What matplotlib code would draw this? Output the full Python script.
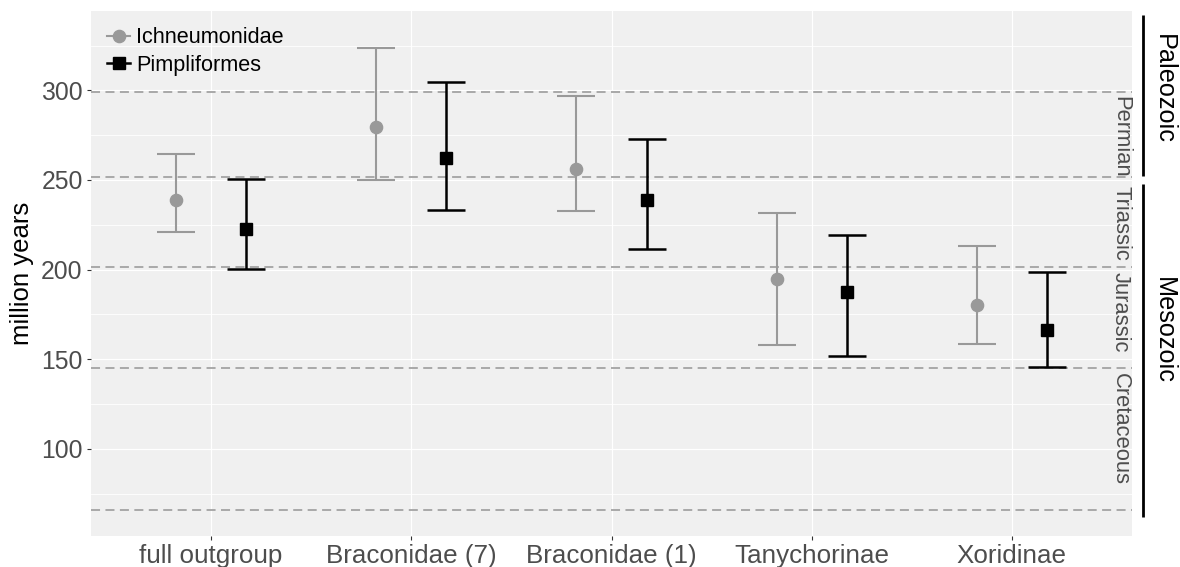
import matplotlib
matplotlib.use("Agg")
import matplotlib.pyplot as plt
import numpy as np
from matplotlib.lines import Line2D
from matplotlib.ticker import FixedLocator
from matplotlib.transforms import blended_transform_factory

plt.rcParams['font.family'] = ['Liberation Sans', 'DejaVu Sans']

# Divergence age estimates (million years) with 95% intervals
categories = ["full outgroup", "Braconidae (7)", "Braconidae (1)", "Tanychorinae", "Xoridinae"]
ich_mean = [238.6, 279.3, 256.3, 194.9, 180.0]
ich_low = [221.0, 250.0, 232.8, 158.1, 158.4]
ich_high = [264.7, 323.5, 296.6, 231.3, 213.2]
pim_mean = [222.9, 262.5, 239.0, 187.6, 166.5]
pim_low = [200.3, 233.3, 211.3, 151.5, 145.6]
pim_high = [250.5, 304.5, 273.0, 219.2, 198.8]

# Geological time scale
boundaries = [298.9, 251.9, 201.3, 145.0, 66.0]
periods = ["Permian", "Triassic", "Jurassic", "Cretaceous"]
period_label_y = [274, 226, 176, 111]
eras = ["Paleozoic", "Mesozoic"]
era_top = [342.0, 248.0]
era_bottom = [252.4, 62.0]
era_label_y = [301, 166]

GREY = "#999999"
PANEL = "#F0F0F0"
TEXT = "#4D4D4D"

fig = plt.figure(figsize=(11.8, 5.67), dpi=100)
ax = fig.add_axes([91 / 1180, 31 / 567, 1041 / 1180, 525 / 567])
ax.set_facecolor(PANEL)
ax.set_xlim(0.4, 5.6)
ax.set_ylim(51.3, 344.3)

x = np.arange(1, len(categories) + 1)
dodge = 0.175

# grid
ax.set_axisbelow(True)
ax.yaxis.set_major_locator(FixedLocator([100, 150, 200, 250, 300]))
ax.yaxis.set_minor_locator(FixedLocator([75, 125, 175, 225, 275, 325]))
ax.grid(which="major", axis="both", color="white", lw=0.9)
ax.grid(which="minor", axis="y", color="white", lw=0.6)

for b in boundaries:
    ax.axhline(b, color="#A3A3A3", lw=1.3, ls=(0, (5, 3)), zorder=1)

im = np.array(ich_mean)
pm = np.array(pim_mean)
ax.errorbar(x - dodge, im, yerr=[im - np.array(ich_low), np.array(ich_high) - im],
            fmt="o", color=GREY, ms=8.8, capsize=14, elinewidth=1.5, capthick=1.5, zorder=3)
ax.errorbar(x + dodge, pm, yerr=[pm - np.array(pim_low), np.array(pim_high) - pm],
            fmt="s", color="black", ms=8.6, capsize=14, elinewidth=1.8, capthick=1.8, zorder=3)

ax.set_xticks(x)
ax.set_xticklabels(categories)
for s in ax.spines.values():
    s.set_visible(False)
ax.tick_params(axis="both", which="major", length=3, color="#333333",
               labelcolor=TEXT, pad=3)
ax.tick_params(axis="x", which="major", labelsize=18.7)
ax.tick_params(axis="y", which="major", labelsize=17.8)
ax.tick_params(axis="y", which="minor", length=0)

ax.set_ylabel("million years", fontsize=18.5, color="black")
ax.yaxis.set_label_coords(-0.055, 0.5)

handles = [
    Line2D([0], [0], color=GREY, marker="o", ms=8.8, lw=1.5),
    Line2D([0], [0], color="black", marker="s", ms=8.6, lw=1.8),
]
ax.legend(handles, ["Ichneumonidae", "Pimpliformes"], loc="upper left",
          bbox_to_anchor=(0.0, 1.0), frameon=False, fontsize=15.6,
          handlelength=1.05, handletextpad=0.3, labelspacing=0.3,
          borderaxespad=0.35)

tr = blended_transform_factory(ax.transAxes, ax.transData)
for name, yv in zip(periods, period_label_y):
    ax.text(0.989, yv, name, transform=tr, rotation=270, ha="center", va="center",
            fontsize=15.8, color=TEXT)

for name, top, bot, yv in zip(eras, era_top, era_bottom, era_label_y):
    ax.plot([1.0106, 1.0106], [bot, top], transform=tr, color="black", lw=2,
            clip_on=False, solid_capstyle="butt")
    ax.text(1.0307, yv, name, transform=tr, rotation=270, ha="center", va="center",
            fontsize=18.2, color="black", clip_on=False)

fig.savefig("out.png", dpi=100)
